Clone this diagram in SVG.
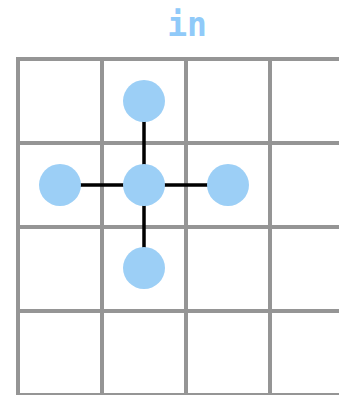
<svg xmlns="http://www.w3.org/2000/svg" width="339" height="395" viewBox="0 0 339 395">
<style>
.grid line{stroke:#959595;stroke-width:4}
.edge{stroke:#000;stroke-width:3.5}
.node{fill:#9ccff6}
.title{font-family:"DejaVu Sans Mono",monospace;font-weight:bold;font-size:33px;fill:#90caf9}
</style>
<rect width="339" height="395" fill="#fff"/>
<text class="title" x="187" y="36" text-anchor="middle">in</text>
<g class="grid">
<line x1="18" y1="57" x2="18" y2="397"/>
<line x1="102" y1="57" x2="102" y2="397"/>
<line x1="186" y1="57" x2="186" y2="397"/>
<line x1="270" y1="57" x2="270" y2="397"/>
<line x1="16" y1="59" x2="345" y2="59"/>
<line x1="16" y1="143" x2="345" y2="143"/>
<line x1="16" y1="227" x2="345" y2="227"/>
<line x1="16" y1="311" x2="345" y2="311"/>
<line x1="16" y1="395" x2="345" y2="395"/>
</g>
<g id="connectors">
<line class="edge" x1="144" y1="101" x2="144" y2="268"/>
<line class="edge" x1="60" y1="185" x2="228" y2="185"/>
</g>
<g id="n-top"><circle class="node" cx="144" cy="101" r="21"/></g>
<g id="n-left"><circle class="node" cx="60" cy="185" r="21"/></g>
<g id="n-center"><circle class="node" cx="144" cy="185" r="21"/></g>
<g id="n-right"><circle class="node" cx="228" cy="185" r="21"/></g>
<g id="n-bottom"><circle class="node" cx="144" cy="268" r="21"/></g>
</svg>
